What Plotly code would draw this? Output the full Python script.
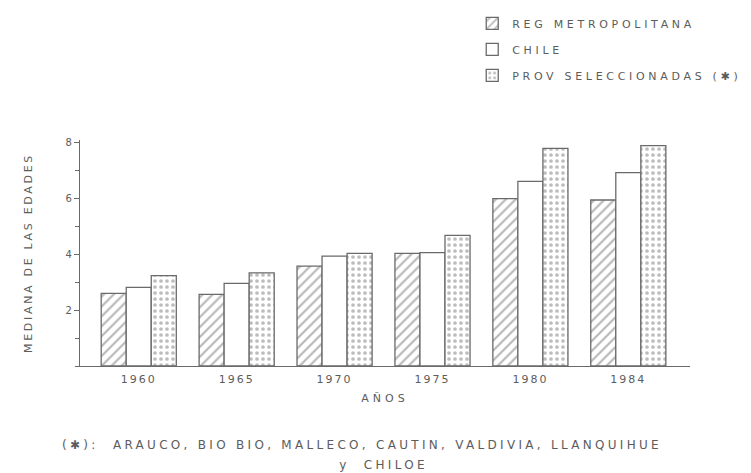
import plotly.graph_objects as go

years = ["1960", "1965", "1970", "1975", "1980", "1984"]
reg_metropolitana = [2.6, 2.57, 3.58, 4.04, 6.0, 5.95]
chile = [2.82, 2.96, 3.94, 4.06, 6.62, 6.93]
prov_seleccionadas = [3.24, 3.34, 4.04, 4.68, 7.8, 7.9]
series_names = ["REG METROPOLITANA", "CHILE", "PROV SELECCIONADAS (✱)"]
y_tick_vals = [2, 4, 6, 8]

INK = "#5c5c5c"
LINE = "#6a6a6a"
FONT = "DejaVu Sans"

fig = go.Figure()
fig.add_trace(go.Bar(
    x=years, y=reg_metropolitana, name=series_names[0], legendgroup="a",
    marker=dict(color="white", line=dict(color=LINE, width=1.3),
                pattern=dict(shape="/", fgcolor="#6e6e6e", bgcolor="white",
                             size=7, solidity=0.3)),
))
fig.add_trace(go.Bar(
    x=years, y=chile, name=series_names[1], legendgroup="b",
    marker=dict(color="white", line=dict(color=LINE, width=1.3)),
))
fig.add_trace(go.Bar(
    x=years, y=prov_seleccionadas, name=series_names[2], legendgroup="c",
    marker=dict(color="white", line=dict(color=LINE, width=1.3),
                pattern=dict(shape=".", fgcolor="#7a7a7a", bgcolor="white",
                             size=6, solidity=0.3)),
))

fig.update_layout(
    width=751, height=473,
    margin=dict(l=80, r=61, t=140, b=107, autoexpand=False),
    paper_bgcolor="white", plot_bgcolor="white",
    barmode="group", bargap=0.233, bargroupgap=0,
    font=dict(family=FONT, size=11, color=INK),
    showlegend=True,
    legend=dict(x=0.643, y=1.58, xanchor="left", yanchor="top",
                bgcolor="rgba(0,0,0,0)", font=dict(size=11, color=INK),
                tracegroupgap=7, traceorder="grouped"),
    xaxis=dict(
        type="category", range=[-0.6, 5.63],
        showline=True, linecolor=LINE, linewidth=1.3,
        ticks="", showgrid=False, zeroline=False,
        tickfont=dict(size=11, color=INK), ticklabelstandoff=3,
        title=dict(text="AÑOS", font=dict(size=11, color=INK), standoff=8),
    ),
    yaxis=dict(
        range=[0, 8.1], tickvals=y_tick_vals,
        showline=True, linecolor=LINE, linewidth=1.3,
        ticks="outside", ticklen=5, tickcolor=LINE, tickwidth=1,
        minor=dict(dtick=1, ticks="outside", ticklen=4, tickcolor=LINE),
        showgrid=False, zeroline=False,
        tickfont=dict(size=10, color=INK),
        title=dict(text="MEDIANA DE LAS EDADES", font=dict(size=11, color=INK), standoff=30),
    ),
)

fig.add_annotation(
    text="(✱):  ARAUCO, BIO BIO, MALLECO, CAUTIN, VALDIVIA, LLANQUIHUE",
    xref="paper", yref="paper", x=(362 - 80) / 610, y=(366 - 445) / 226,
    xanchor="center", yanchor="middle", showarrow=False,
    font=dict(size=12, color=INK),
)
fig.add_annotation(
    text="y  CHILOE",
    xref="paper", yref="paper", x=(383 - 80) / 610, y=(366 - 465) / 226,
    xanchor="center", yanchor="middle", showarrow=False,
    font=dict(size=12, color=INK),
)

post = """
var s = document.createElement('style');
s.textContent = 'body{margin:0;}' +
  '.legend .scrollbox{clip-path:none !important;}' +
  '.legendtext{letter-spacing:3.7px;}' +
  '.annotation-text{letter-spacing:3.3px;}' +
  '.ytitle{letter-spacing:2.7px;}' +
  '.xtitle{letter-spacing:4px;}' +
  '.xtick text{letter-spacing:2px;}';
document.head.appendChild(s);
document.querySelectorAll('.legend .scrollbox').forEach(function(e){ e.removeAttribute('clip-path'); });
document.querySelectorAll('.legend clipPath rect').forEach(function(e){ e.setAttribute('width', '300'); });
"""

fig.write_html("out.html", post_script=post, config={"displayModeBar": False})
